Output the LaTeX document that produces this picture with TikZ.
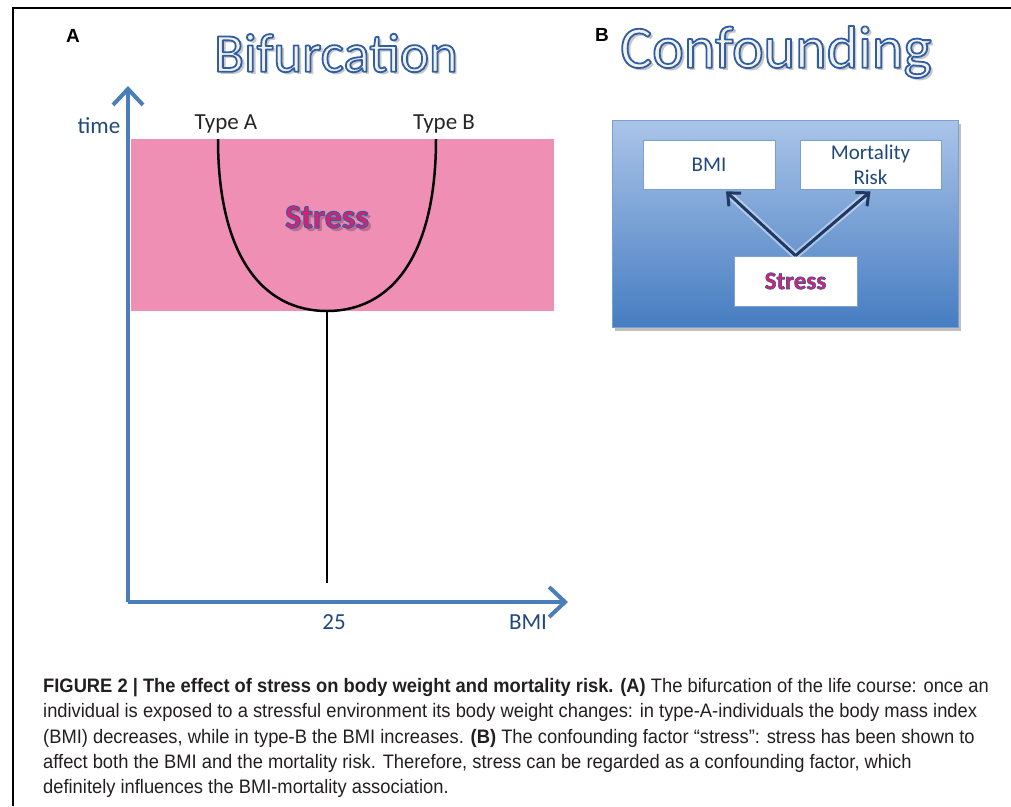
\documentclass[tikz,border=0pt]{standalone}
\usepackage{fontspec}
\setmainfont{Carlito}
\newfontfamily\capfont[FakeStretch=0.94]{Liberation Sans}
\newfontfamily\panelfont{Liberation Sans}
\usetikzlibrary{arrows.meta,calc}

\definecolor{axisblue}{RGB}{74,126,187}
\definecolor{labelblue}{RGB}{31,73,125}
\definecolor{bandpink}{RGB}{240,143,180}
\definecolor{titlefill}{RGB}{244,242,230}
\definecolor{stressred}{RGB}{228,28,108}
\definecolor{bgtop}{RGB}{170,196,232}
\definecolor{bgbottom}{RGB}{70,125,194}
\definecolor{bgedge}{RGB}{120,160,210}
\definecolor{arrownavy}{RGB}{31,56,100}
\definecolor{captext}{RGB}{35,31,32}

% glyphs filled with the current colour and stroked with a blue outline
% #1 outline width, #2 text
\newcommand\stroked[2]{%
  \special{pdf:literal direct #1 w 1 j 0.184 0.365 0.659 RG 2 Tr}#2%
  \special{pdf:literal direct 0 Tr}}

% outlined text with a soft drop shadow
% #1 position, #2 name, #3 font, #4 fill colour, #5 outline width, #6 text
\newcommand\outlinetext[6]{%
  \node[font=#3,text=black,opacity=0.22] at ($(#1)+(3,3)$) {#6};
  \node[font=#3,text=#4] (#2) at (#1) {\stroked{#5}{#6}};
}

\tikzset{
  lab/.style={font=\fontsize{23}{27}\selectfont, inner sep=0pt},
  axis/.style={draw=axisblue, line width=4pt,
    -{Straight Barb[length=16pt,width=30pt,line width=4pt]}},
  boxB/.style={draw=bgedge, line width=0.8pt, fill=white, inner sep=0pt},
  glow/.style={draw=white, line width=7pt, opacity=0.45, shorten >=6pt},
  conn/.style={draw=arrownavy, line width=3pt,
    -{Straight Barb[length=10pt,width=18pt,line width=3pt]}},
  capline/.style={anchor=base west, inner sep=0pt, text=captext,
    font=\capfont\fontsize{19.5}{23}\selectfont},
  panel/.style={font=\panelfont\bfseries\fontsize{19}{22}\selectfont, inner sep=0pt}
}

\begin{document}
\begin{tikzpicture}[x=1pt,y=-1pt]
\useasboundingbox (0,0) rectangle (1011,806);

% frame
\draw[line width=1.5pt] (13,806) -- (13,8) -- (1011,8);

% panel letters
\node[panel] (pA) at (73,36) {A};
\node[panel] (pB) at (602,35) {B};

% ---------- panel A ----------
\fill[bandpink] (131,139) rectangle (554,311);

\coordinate (O) at (128,602);
\coordinate (ytip) at (128,86);
\coordinate (xtip) at (568,602);
\draw[axis] (O) -- (ytip);
\draw[axis] (O) -- (xtip);

\coordinate (ta) at (218,139);
\coordinate (bottom) at (327,311);
\coordinate (tb) at (436,139);
\coordinate (stem) at (327,583);
\draw[line width=2.5pt] (ta) .. controls (218,255) and (262,311) .. (bottom)
  .. controls (392,311) and (436,255) .. (tb);
\draw[line width=2.5pt] (bottom) -- (stem);

\node[lab, text=labelblue] (time) at (99,126) {time};
\node[lab, text=black!85] (typeA) at (226,124) {Type A};
\node[lab, text=black!85] (typeB) at (444,124) {Type B};
\node[lab, text=labelblue] (t25) at (334,622) {25};
\node[lab, text=labelblue] (bmiA) at (528,622) {BMI};

\outlinetext{327,217}{stressA}{\bfseries\fontsize{34}{38}\selectfont}{stressred}{1.0}{Stress}

\outlinetext{336,53}{titleA}{\fontsize{55}{60}\selectfont}{titlefill}{1.8}{Bifurcation}

% ---------- panel B ----------
\outlinetext{776,52}{titleB}{\fontsize{60}{64}\selectfont}{titlefill}{1.8}{Confounding}

\fill[black, opacity=0.25] (615,124) rectangle (961,331);
\draw[bgedge, line width=1pt, top color=bgtop, bottom color=bgbottom] (612,120) rectangle (958,327);

\node[boxB, minimum width=132pt, minimum height=49pt, text=labelblue,
  font=\fontsize{21}{26}\selectfont] (bmi) at (709,164.5) {BMI};
\node[boxB, minimum width=141pt, minimum height=49pt, text=labelblue,
  font=\fontsize{21}{26}\selectfont, align=center] (mort) at (870.5,164.5) {Mortality\\[-1pt]Risk};
\node[boxB, minimum width=123pt, minimum height=50pt] (stress) at (795.5,281) {};
\node[font=\bfseries\fontsize{25}{28}\selectfont, text=stressred] (stressB) at (stress.center) {\stroked{0.6}{Stress}};

\draw[glow] (stress.north) -- ($(bmi.south)+(17,2)$);
\draw[glow] (stress.north) -- ($(mort.south)+(0,2)$);
\draw[conn] (stress.north) -- ($(bmi.south)+(17,2)$);
\draw[conn] (stress.north) -- ($(mort.south)+(0,2)$);

% ---------- caption ----------
\node[capline] (c1) at (43,692) {\bfseries FIGURE 2 | The effect of stress on body weight and mortality risk. (A)\mdseries{} The bifurcation of the life course: once an};
\node[capline] (c2) at (43,717) {individual is exposed to a stressful environment its body weight changes: in type-A-individuals the body mass index};
\node[capline] (c3) at (43,743) {(BMI) decreases, while in type-B the BMI increases. \textbf{(B)} The confounding factor “stress”: stress has been shown to};
\node[capline] (c4) at (43,768) {affect both the BMI and the mortality risk. Therefore, stress can be regarded as a confounding factor, which};
\node[capline] (c5) at (43,793) {definitely influences the BMI-mortality association.};
\end{tikzpicture}
\end{document}
